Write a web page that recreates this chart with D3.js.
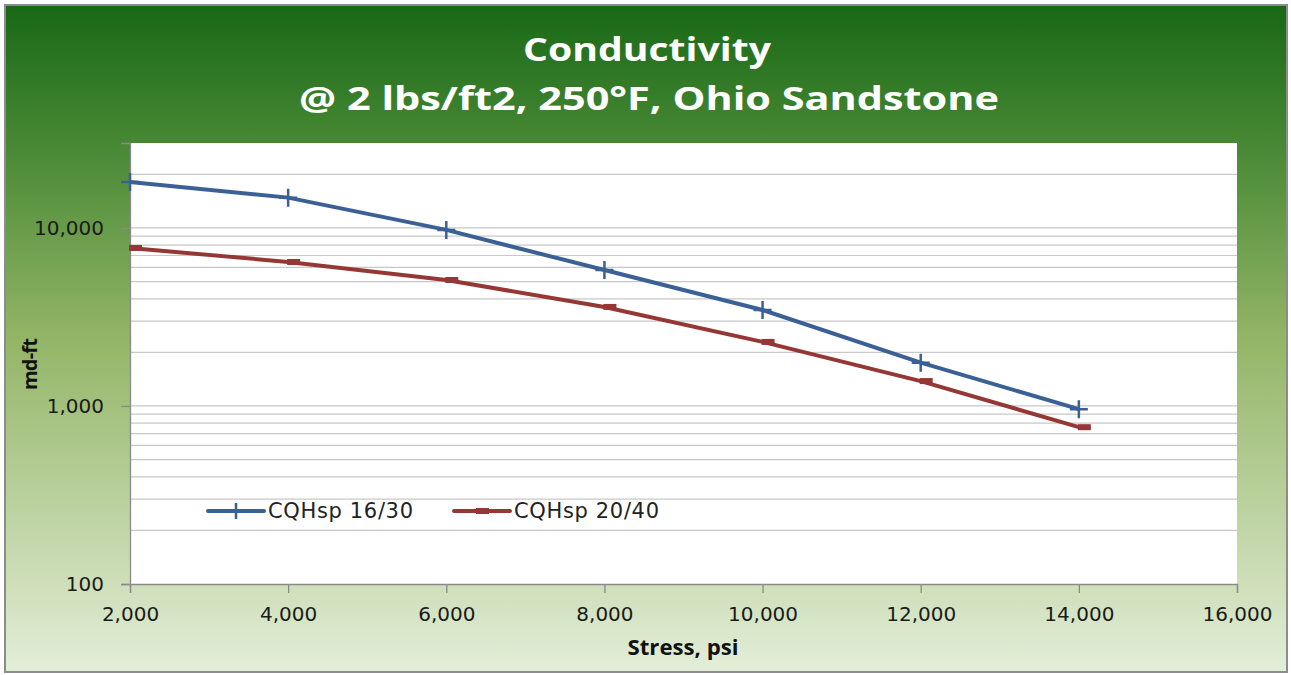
<!DOCTYPE html>
<html>
<head>
<meta charset="utf-8">
<script src="https://cdn.jsdelivr.net/npm/d3@7"></script>
<style>
  body { margin: 0; background: #fff; }
  svg { display: block; }
</style>
</head>
<body>
<script>
// chart data
const stress = [2000, 4000, 6000, 8000, 10000, 12000, 14000];
const cqhsp1630 = [18100, 14800, 9750, 5800, 3460, 1750, 960];
const cqhsp2040 = [7720, 6440, 5100, 3600, 2290, 1380, 760];
const seriesNames = ["CQHsp 16/30", "CQHsp 20/40"];
const xTicks = [2000, 4000, 6000, 8000, 10000, 12000, 14000, 16000];
const yTicks = [100, 1000, 10000];
const yGrid = [200, 300, 400, 500, 600, 700, 800, 900, 1000, 2000, 3000, 4000, 5000, 6000, 7000, 8000, 9000, 10000, 20000];

let w = 1291;
let h = 675;
let plotLeft = 130, plotRight = 1237, plotTop = 143, plotBottom = 584;

var svg = d3.select("body")
  .append("svg")
  .attr("width", w)
  .attr("height", h);

var grad = svg.append("defs")
  .append("linearGradient")
  .attr("id", "bg")
  .attr("x1", 0).attr("y1", 0).attr("x2", 0).attr("y2", 1);
grad.append("stop").attr("offset", "0%").attr("stop-color", "#186816");
grad.append("stop").attr("offset", "22%").attr("stop-color", "#4a8a36");
grad.append("stop").attr("offset", "50%").attr("stop-color", "#93b566");
grad.append("stop").attr("offset", "100%").attr("stop-color", "#e3eed8");

svg.append("rect")
  .attr("x", 5).attr("y", 5)
  .attr("width", w - 9).attr("height", h - 8)
  .attr("fill", "url(#bg)")
  .attr("stroke", "#8c8c8c")
  .attr("stroke-width", 2);

var x = d3.scaleLinear().domain([2000, 16000]).range([plotLeft, plotRight]);
var y = d3.scaleLog().domain([100, 30000]).range([plotBottom, plotTop]);

// plot area
svg.append("rect")
  .attr("x", plotLeft).attr("y", plotTop)
  .attr("width", plotRight - plotLeft).attr("height", plotBottom - plotTop)
  .attr("fill", "#fff");

svg.selectAll("line.grid")
  .data(yGrid)
  .enter()
  .append("line")
  .attr("class", "grid")
  .attr("x1", plotLeft).attr("x2", plotRight)
  .attr("y1", d => y(d)).attr("y2", d => y(d))
  .attr("stroke", "#c8c8c8")
  .attr("stroke-width", 1.2);

// y axis
var yAxis = d3.axisLeft(y)
  .tickValues(yTicks)
  .tickSize(9)
  .tickPadding(17)
  .tickFormat(d3.format(","));
var gy = svg.append("g")
  .attr("transform", "translate(" + plotLeft + ",0)")
  .call(yAxis);
gy.select(".domain").attr("stroke", "#8a8a8a").attr("stroke-width", 1.3);
gy.selectAll(".tick line").attr("stroke", "#8a8a8a").attr("stroke-width", 1.3);
gy.selectAll(".tick text")
  .attr("font-family", "DejaVu Sans")
  .attr("font-size", 20)
  .attr("fill", "#1a1a1a");

// x axis
var xAxis = d3.axisBottom(x)
  .tickValues(xTicks)
  .tickSize(9)
  .tickPadding(14)
  .tickFormat(d3.format(","));
var gx = svg.append("g")
  .attr("transform", "translate(0," + plotBottom + ")")
  .call(xAxis);
gx.select(".domain").attr("stroke", "#8a8a8a").attr("stroke-width", 1.3);
gx.selectAll(".tick line").attr("stroke", "#8a8a8a").attr("stroke-width", 1.3);
gx.selectAll(".tick text")
  .attr("font-family", "DejaVu Sans")
  .attr("font-size", 20)
  .attr("fill", "#1a1a1a");

var line = d3.line()
  .x(d => x(d[0]))
  .y(d => y(d[1]));

var blueData = stress.map((s, i) => [s, cqhsp1630[i]]);
var redData = stress.map((s, i) => [s, cqhsp2040[i]]);

svg.append("path")
  .datum(redData)
  .attr("d", line)
  .attr("fill", "none")
  .attr("stroke", "#953735")
  .attr("stroke-width", 4);

svg.selectAll("rect.redmark")
  .data(redData)
  .enter()
  .append("rect")
  .attr("class", "redmark")
  .attr("x", d => x(d[0]) - 1)
  .attr("y", d => y(d[1]) - 3)
  .attr("width", 13)
  .attr("height", 6)
  .attr("fill", "#953735");

svg.append("path")
  .datum(blueData)
  .attr("d", line)
  .attr("fill", "none")
  .attr("stroke", "#3b6096")
  .attr("stroke-width", 4);

svg.selectAll("path.bluemark")
  .data(blueData)
  .enter()
  .append("path")
  .attr("class", "bluemark")
  .attr("d", "M-9,0H9M0,-9V9")
  .attr("transform", d => "translate(" + x(d[0]) + "," + y(d[1]) + ")")
  .attr("stroke", "#3b6096")
  .attr("stroke-width", 2.5);

// legend
var legend = svg.append("g");
var legendX = [208, 454];
var legendColors = ["#3b6096", "#953735"];
seriesNames.forEach(function(name, i) {
  legend.append("line")
    .attr("x1", legendX[i]).attr("x2", legendX[i] + 56)
    .attr("y1", 511).attr("y2", 511)
    .attr("stroke", legendColors[i])
    .attr("stroke-width", 4)
    .attr("stroke-linecap", "round");
  if (i == 0) {
    legend.append("path")
      .attr("d", "M" + (legendX[i] + 28) + ",503V519")
      .attr("stroke", legendColors[i])
      .attr("stroke-width", 2.5);
  } else {
    legend.append("rect")
      .attr("x", legendX[i] + 22).attr("y", 508)
      .attr("width", 13).attr("height", 6)
      .attr("fill", legendColors[i]);
  }
  legend.append("text")
    .attr("x", legendX[i] + 60)
    .attr("y", 518)
    .attr("font-family", "DejaVu Sans")
    .attr("font-size", 21)
    .attr("textLength", 145)
    .attr("fill", "#222")
    .text(name);
});

// titles
svg.append("text")
  .attr("x", 647).attr("y", 61)
  .attr("text-anchor", "middle")
  .attr("font-family", "Open Sans")
  .attr("font-weight", "bold")
  .attr("font-size", 33)
  .attr("textLength", 248)
  .attr("lengthAdjust", "spacingAndGlyphs")
  .attr("fill", "#fff")
  .text("Conductivity");
svg.append("text")
  .attr("x", 649).attr("y", 110)
  .attr("text-anchor", "middle")
  .attr("font-family", "Open Sans")
  .attr("font-weight", "bold")
  .attr("font-size", 33)
  .attr("textLength", 700)
  .attr("lengthAdjust", "spacingAndGlyphs")
  .attr("fill", "#fff")
  .text("@ 2 lbs/ft2, 250°F, Ohio Sandstone");

svg.append("text")
  .attr("transform", "translate(37,364) rotate(-90)")
  .attr("text-anchor", "middle")
  .attr("font-family", "Open Sans")
  .attr("font-weight", "bold")
  .attr("font-size", 20)
  .attr("textLength", 52)
  .attr("fill", "#111")
  .text("md-ft");

svg.append("text")
  .attr("x", 683).attr("y", 655)
  .attr("text-anchor", "middle")
  .attr("font-family", "Open Sans")
  .attr("font-weight", "bold")
  .attr("font-size", 21)
  .attr("textLength", 111)
  .attr("lengthAdjust", "spacingAndGlyphs")
  .attr("fill", "#111")
  .text("Stress, psi");
</script>
</body>
</html>
